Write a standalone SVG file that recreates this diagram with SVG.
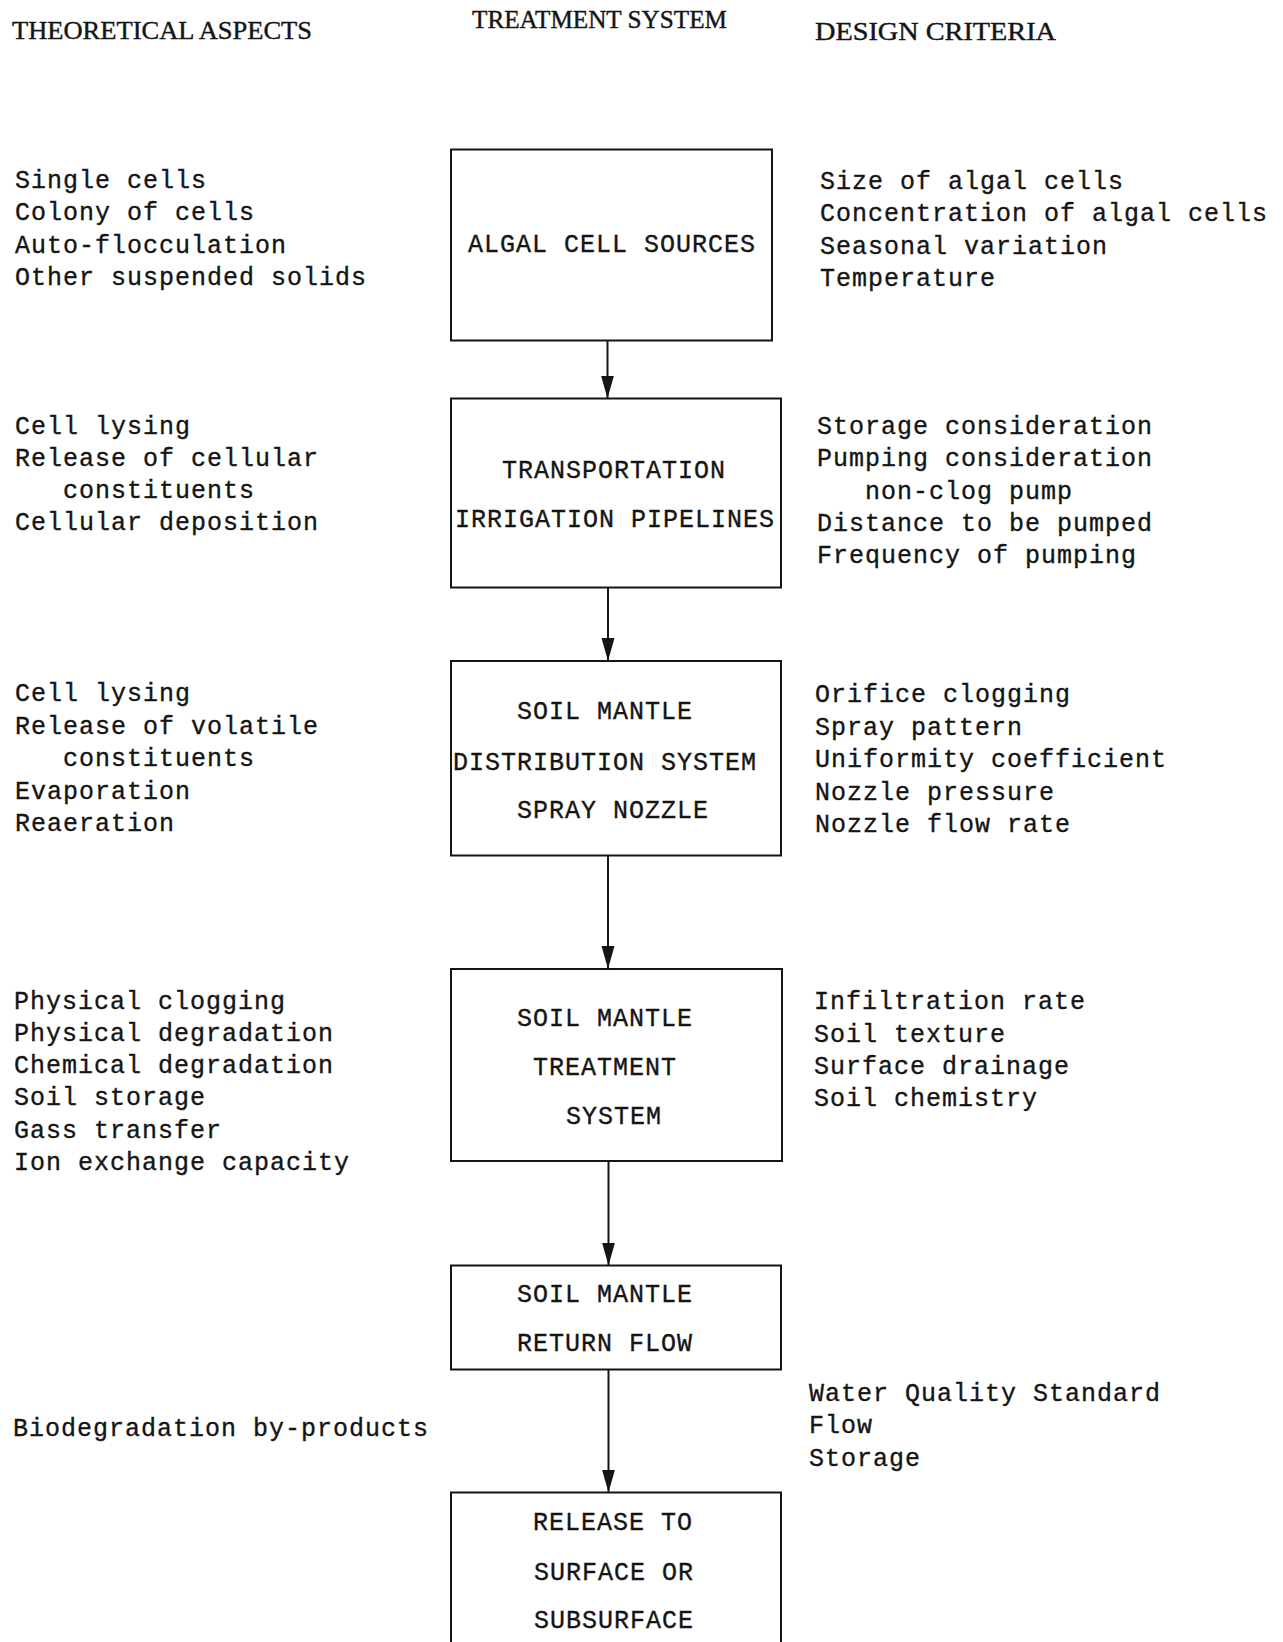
<svg xmlns="http://www.w3.org/2000/svg" width="1283" height="1642" viewBox="0 0 1283 1642">
  <style>
    .box { fill: none; stroke: #151515; stroke-width: 2; }
    .wire { stroke: #151515; stroke-width: 2; fill: none; }
    .t { font-family: "Liberation Mono", "DejaVu Sans Mono", monospace; font-size: 25px; letter-spacing: 1px; fill: #151515; stroke: #151515; stroke-width: 0.35px; }
    .h { font-family: "Liberation Serif", "DejaVu Serif", serif; font-size: 25px; fill: #151515; stroke: #151515; stroke-width: 0.4px; }
  </style>
  <defs>
    <marker id="arrow" markerUnits="userSpaceOnUse" markerWidth="23" markerHeight="14" refX="23" refY="7" orient="auto">
      <path d="M0,0.5 L23,7 L0,13.5 z" fill="#151515"/>
    </marker>
  </defs>

  <rect x="0" y="0" width="1283" height="1642" fill="#ffffff"/>

  <!-- column headings -->
  <g id="headings">
    <text class="h" x="12" y="39" textLength="300" lengthAdjust="spacingAndGlyphs">THEORETICAL ASPECTS</text>
    <text class="h" x="472" y="28" textLength="255" lengthAdjust="spacingAndGlyphs">TREATMENT SYSTEM</text>
    <text class="h" x="815" y="40" textLength="241" lengthAdjust="spacingAndGlyphs">DESIGN CRITERIA</text>
  </g>

  <!-- treatment chain -->
  <g id="node-algal-cell-sources">
    <rect class="box" x="451" y="149.5" width="321" height="191"/>
    <text class="t" x="468" y="251.5">ALGAL CELL SOURCES</text>
  </g>

  <g id="node-transportation">
    <rect class="box" x="451" y="398.5" width="330" height="189"/>
    <text class="t" x="502" y="478">TRANSPORTATION</text>
    <text class="t" x="455" y="526.5">IRRIGATION PIPELINES</text>
  </g>

  <g id="node-distribution">
    <rect class="box" x="451" y="661" width="330" height="194.5"/>
    <text class="t" x="517" y="719">SOIL MANTLE</text>
    <text class="t" x="453" y="769.5">DISTRIBUTION SYSTEM</text>
    <text class="t" x="517" y="817.5">SPRAY NOZZLE</text>
  </g>

  <g id="node-treatment">
    <rect class="box" x="451" y="969" width="331" height="192"/>
    <text class="t" x="517" y="1026">SOIL MANTLE</text>
    <text class="t" x="533" y="1075">TREATMENT</text>
    <text class="t" x="566" y="1124">SYSTEM</text>
  </g>

  <g id="node-return-flow">
    <rect class="box" x="451" y="1265.5" width="330" height="104"/>
    <text class="t" x="517" y="1301.5">SOIL MANTLE</text>
    <text class="t" x="517" y="1351">RETURN FLOW</text>
  </g>

  <g id="node-release">
    <rect class="box" x="451" y="1492.5" width="330" height="170"/>
    <text class="t" x="533" y="1529.5">RELEASE TO</text>
    <text class="t" x="534" y="1579.5">SURFACE OR</text>
    <text class="t" x="534" y="1628">SUBSURFACE</text>
  </g>

  <!-- connectors -->
  <g id="connectors">
    <line class="wire" x1="607.5" y1="340.5" x2="607.5" y2="398.5" marker-end="url(#arrow)"/>
    <line class="wire" x1="608" y1="587.5" x2="608" y2="661" marker-end="url(#arrow)"/>
    <line class="wire" x1="608" y1="855.5" x2="608" y2="969" marker-end="url(#arrow)"/>
    <line class="wire" x1="608.5" y1="1161" x2="608.5" y2="1265.5" marker-end="url(#arrow)"/>
    <line class="wire" x1="608.5" y1="1369.5" x2="608.5" y2="1492.5" marker-end="url(#arrow)"/>
  </g>

  <!-- theoretical aspects -->
  <g id="theory-sources">
    <text class="t" x="15" y="188">Single cells</text>
    <text class="t" x="15" y="220.3">Colony of cells</text>
    <text class="t" x="15" y="252.6">Auto-flocculation</text>
    <text class="t" x="15" y="284.9">Other suspended solids</text>
  </g>
  <g id="theory-transportation">
    <text class="t" x="15" y="434">Cell lysing</text>
    <text class="t" x="15" y="466">Release of cellular</text>
    <text class="t" x="63" y="498">constituents</text>
    <text class="t" x="15" y="530">Cellular deposition</text>
  </g>
  <g id="theory-distribution">
    <text class="t" x="15" y="701">Cell lysing</text>
    <text class="t" x="15" y="733.5">Release of volatile</text>
    <text class="t" x="63" y="766">constituents</text>
    <text class="t" x="15" y="798.5">Evaporation</text>
    <text class="t" x="15" y="831">Reaeration</text>
  </g>
  <g id="theory-treatment">
    <text class="t" x="14" y="1009">Physical clogging</text>
    <text class="t" x="14" y="1041">Physical degradation</text>
    <text class="t" x="14" y="1073">Chemical degradation</text>
    <text class="t" x="14" y="1105">Soil storage</text>
    <text class="t" x="14" y="1137.5">Gass transfer</text>
    <text class="t" x="14" y="1170">Ion exchange capacity</text>
  </g>
  <g id="theory-return">
    <text class="t" x="13" y="1436">Biodegradation by-products</text>
  </g>

  <!-- design criteria -->
  <g id="design-sources">
    <text class="t" x="820" y="189">Size of algal cells</text>
    <text class="t" x="820" y="221.3">Concentration of algal cells</text>
    <text class="t" x="820" y="253.6">Seasonal variation</text>
    <text class="t" x="820" y="285.9">Temperature</text>
  </g>
  <g id="design-transportation">
    <text class="t" x="817" y="434">Storage consideration</text>
    <text class="t" x="817" y="466.3">Pumping consideration</text>
    <text class="t" x="865" y="498.6">non-clog pump</text>
    <text class="t" x="817" y="531">Distance to be pumped</text>
    <text class="t" x="817" y="563.2">Frequency of pumping</text>
  </g>
  <g id="design-distribution">
    <text class="t" x="815" y="702">Orifice clogging</text>
    <text class="t" x="815" y="734.5">Spray pattern</text>
    <text class="t" x="815" y="767">Uniformity coefficient</text>
    <text class="t" x="815" y="799.5">Nozzle pressure</text>
    <text class="t" x="815" y="832">Nozzle flow rate</text>
  </g>
  <g id="design-treatment">
    <text class="t" x="814" y="1009">Infiltration rate</text>
    <text class="t" x="814" y="1041.5">Soil texture</text>
    <text class="t" x="814" y="1074">Surface drainage</text>
    <text class="t" x="814" y="1106">Soil chemistry</text>
  </g>
  <g id="design-release">
    <text class="t" x="809" y="1401">Water Quality Standard</text>
    <text class="t" x="809" y="1433.4">Flow</text>
    <text class="t" x="809" y="1465.8">Storage</text>
  </g>
</svg>
